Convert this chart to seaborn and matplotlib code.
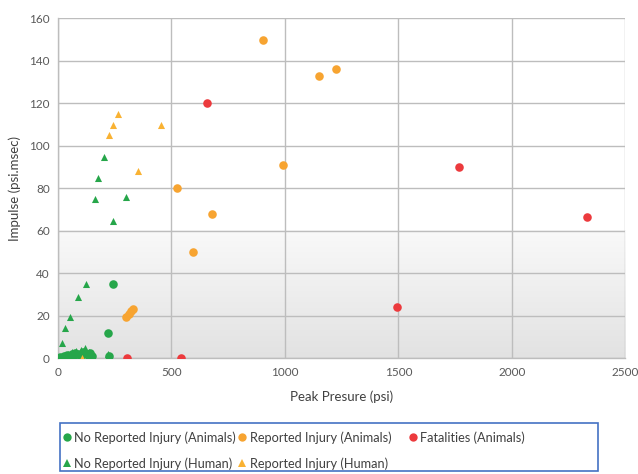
import numpy as np
import pandas as pd
import matplotlib
matplotlib.use("Agg")
import matplotlib.pyplot as plt
import seaborn as sns
from matplotlib.colors import LinearSegmentedColormap
from matplotlib.lines import Line2D
from matplotlib.patches import Rectangle

# ---- data ----
no_inj_animals_x = [222, 241, 225, 10, 25, 40, 60, 75, 90, 110, 130, 150, 20, 50, 100, 140]
no_inj_animals_y = [12, 35, 1, 0.5, 1, 1.5, 2, 2.5, 2, 3, 1.5, 1, 0.3, 0.8, 1, 2.5]

no_inj_human_x = [16, 31, 52, 88, 123, 162, 176, 201, 244, 301, 222, 119, 60, 80, 100, 5, 35, 70, 135, 45]
no_inj_human_y = [7, 14.5, 19.5, 29, 35, 75, 85, 95, 64.5, 76, 2, 5, 3, 3.5, 4, 0.5, 1, 1.5, 3, 2]

rep_inj_animals_x = [903, 1149, 1227, 991, 526, 679, 594, 300, 314, 322, 330]
rep_inj_animals_y = [150, 133, 136, 91, 80, 68, 50, 19.5, 21, 22.5, 23]

rep_inj_human_x = [265, 241, 224, 453, 354, 105]
rep_inj_human_y = [115, 110, 105, 110, 88, 0]

fatal_animals_x = [658, 1769, 2332, 1496, 305, 540]
fatal_animals_y = [120, 90, 66.6, 24, 0, 0]

groups = ["No Reported Injury (Animals)", "No Reported Injury (Human)",
          "Reported Injury (Animals)", "Reported Injury (Human)",
          "Fatalities (Animals)"]

frames = []
for g, xs, ys in zip(groups,
                     [no_inj_animals_x, no_inj_human_x, rep_inj_animals_x, rep_inj_human_x, fatal_animals_x],
                     [no_inj_animals_y, no_inj_human_y, rep_inj_animals_y, rep_inj_human_y, fatal_animals_y]):
    frames.append(pd.DataFrame({"x": xs, "y": ys, "group": g}))
df = pd.concat(frames, ignore_index=True)

palette = {groups[0]: "#26A64A", groups[1]: "#26A64A",
           groups[2]: "#F7A431", groups[3]: "#F9B233",
           groups[4]: "#EC3A3D"}
markers = {groups[0]: "o", groups[1]: "^", groups[2]: "o", groups[3]: "^", groups[4]: "o"}
sizes = {groups[0]: 38, groups[1]: 26, groups[2]: 38, groups[3]: 26, groups[4]: 38}

sns.set_theme(style="white")
plt.rcParams['font.family'] = ['Lato', 'DejaVu Sans']

W, H = 638, 474
fig = plt.figure(figsize=(W / 100, H / 100), dpi=100)
ax = fig.add_axes([0.091, 0.244, 0.889, 0.717])

# background gradient (white above 60, fading to grey toward 0)
cmap = LinearSegmentedColormap.from_list("bg", ["#E2E2E2", "#F9F9F9"])
grad = np.linspace(0, 1, 256).reshape(-1, 1)
ax.imshow(grad, extent=[0, 2500, 0, 60], origin="lower", aspect="auto",
          cmap=cmap, zorder=0)

for g in groups:
    sub = df[df.group == g]
    sns.scatterplot(data=sub, x="x", y="y", ax=ax, color=palette[g],
                    marker=markers[g], s=sizes[g], linewidth=0, zorder=3,
                    label=g, legend=False)

ax.set_xlim(0, 2500)
ax.set_ylim(0, 160)
ax.set_xticks(np.arange(0, 2501, 500))
ax.set_yticks(np.arange(0, 161, 20))
ax.grid(True, color="#BDBDBD", linewidth=1.0, zorder=1)
ax.set_axisbelow(True)
for s in ["top", "right"]:
    ax.spines[s].set_visible(False)
for s in ["left", "bottom"]:
    ax.spines[s].set_color("#BDBDBD")
    ax.spines[s].set_linewidth(1.0)
ax.tick_params(axis="both", colors="#595959", labelsize=8.5, length=0, pad=6)
ax.set_xlabel("Peak Presure (psi)", color="#404040", fontsize=9.5, labelpad=9)
ax.set_ylabel("Impulse (psi.msec)", color="#404040", fontsize=9.5, labelpad=6)

# legend: box + three columns
fig.patches.append(Rectangle((60 / W, 1 - 471 / H), 538 / W, 48.5 / H,
                             transform=fig.transFigure, fill=False,
                             edgecolor="#4472C4", linewidth=1.2))

def handle(g):
    return Line2D([0], [0], marker=markers[g], color="none",
                  markerfacecolor=palette[g], markeredgewidth=0,
                  markersize=6 if markers[g] == "o" else 5.5, label=g)

columns = [([groups[0], groups[1]], 63), ([groups[2], groups[3]], 238), ([groups[4]], 409)]
for labels, xpix in columns:
    lg = fig.legend(handles=[handle(g) for g in labels], ncol=1, loc="upper left",
                    bbox_to_anchor=(xpix / W, 1 - 431 / H), bbox_transform=fig.transFigure,
                    frameon=False, fontsize=9.2, handlelength=0.6, handletextpad=0.3,
                    borderpad=0, borderaxespad=0, labelspacing=1.05)
    for t in lg.get_texts():
        t.set_color("#404040")

fig.savefig("out.png", dpi=100)
